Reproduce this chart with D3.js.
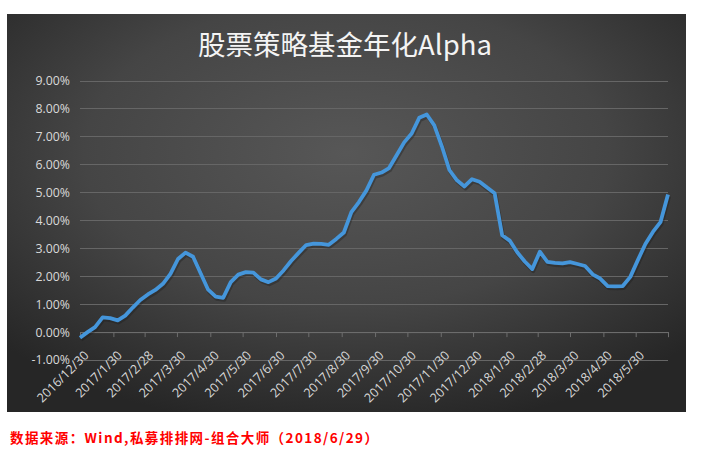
<!DOCTYPE html>
<html><head><meta charset="utf-8">
<script src="https://cdn.jsdelivr.net/npm/d3@7"></script>
<style>body{margin:0;background:#fff}svg{display:block}</style>
</head><body><svg id="c" width="707" height="455"></svg>
<script>
const title = "股票策略基金年化Alpha";
const source = "数据来源：Wind,私募排排网-组合大师（2018/6/29）";
const startDate = "2016/12/30";
// weekly annualized alpha (%), one value per Friday from 2016/12/30 to 2018/6/29
const alpha = [
  -0.20, 0.00, 0.18, 0.53, 0.50, 0.42, 0.59, 0.88, 1.15, 1.35,
   1.51, 1.73, 2.09, 2.62, 2.85, 2.70, 2.11, 1.52, 1.27, 1.23,
   1.79, 2.06, 2.15, 2.13, 1.89, 1.79, 1.92, 2.21, 2.55, 2.84,
   3.12, 3.17, 3.16, 3.13, 3.34, 3.57, 4.30, 4.66, 5.08, 5.64,
   5.72, 5.88, 6.34, 6.80, 7.12, 7.68, 7.80, 7.41, 6.66, 5.81,
   5.44, 5.22, 5.48, 5.39, 5.18, 4.98, 3.47, 3.28, 2.86, 2.53,
   2.26, 2.88, 2.52, 2.48, 2.46, 2.51, 2.44, 2.37, 2.07, 1.92,
   1.65, 1.64, 1.65, 1.98, 2.58, 3.16, 3.59, 3.94, 4.93
];
const tickLabels = ["2016/12/30","2017/1/30","2017/2/28","2017/3/30","2017/4/30","2017/5/30",
  "2017/6/30","2017/7/30","2017/8/30","2017/9/30","2017/10/30","2017/11/30","2017/12/30",
  "2018/1/30","2018/2/28","2018/3/30","2018/4/30","2018/5/30"];
const yTicks = [-1,0,1,2,3,4,5,6,7,8,9];

const parse = d3.timeParse("%Y/%m/%d");
const start = parse(startDate);
const dates = alpha.map((_, i) => d3.timeDay.offset(start, 7 * i));
const data = alpha.map((v, i) => ({date: dates[i], v}));

const svg = d3.select("#c");
const defs = svg.append("defs");
const grad = defs.append("radialGradient").attr("id", "bg")
  .attr("cx", "50%").attr("cy", "35%").attr("r", "70%");
grad.append("stop").attr("offset", "0%").attr("stop-color", "#575757");
grad.append("stop").attr("offset", "55%").attr("stop-color", "#454545");
grad.append("stop").attr("offset", "100%").attr("stop-color", "#262626");

svg.append("rect").attr("x", 7).attr("y", 14).attr("width", 679).attr("height", 398)
  .attr("fill", "url(#bg)");

const x = d3.scaleTime().domain([start, dates[dates.length - 1]]).range([80, 668]);
const y = d3.scaleLinear().domain([-1, 9]).range([360, 81]);

// gridlines
svg.append("g").selectAll("line").data(yTicks).join("line")
  .attr("x1", 80).attr("x2", 668)
  .attr("y1", d => y(d)).attr("y2", d => y(d))
  .attr("stroke", "#666").attr("stroke-width", 1).attr("shape-rendering", "crispEdges");

// y axis labels
const yAxis = svg.append("g").attr("transform", "translate(80,0)")
  .call(d3.axisLeft(y).tickValues(yTicks).tickSize(0).tickPadding(10)
    .tickFormat(d => d.toFixed(2) + "%"));
yAxis.select(".domain").remove();
yAxis.selectAll("text").attr("fill", "#d9d9d9")
  .style("font-family", "'Open Sans', sans-serif").style("font-size", "12.3px");

// x axis at 0%
const tickDates = tickLabels.map(parse).concat([dates[dates.length - 1]]);
const xAxis = svg.append("g").attr("transform", `translate(0,${y(0)})`)
  .call(d3.axisBottom(x).tickValues(tickDates).tickSize(5)
    .tickFormat((d, i) => i < tickLabels.length ? tickLabels[i] : ""));
xAxis.select(".domain").attr("stroke", "#6e6e6e");
xAxis.selectAll(".tick line").attr("stroke", "#6e6e6e");
xAxis.selectAll("text")
  .attr("fill", "#d9d9d9")
  .style("font-family", "'Open Sans', sans-serif").style("font-size", "12.6px")
  .attr("text-anchor", "end")
  .attr("y", 0).attr("dy", 0)
  .attr("transform", "translate(9,24) rotate(-45)");

// line
const line = d3.line().x(d => x(d.date)).y(d => y(d.v));
svg.append("path").datum(data)
  .attr("fill", "none").attr("stroke", "#1a1a1a").attr("stroke-opacity", 0.35)
  .attr("stroke-width", 4).attr("stroke-linejoin", "round")
  .attr("transform", "translate(1,2)").attr("d", line);
svg.append("path").datum(data)
  .attr("fill", "none").attr("stroke", "#4596db")
  .attr("stroke-width", 3.8).attr("stroke-linejoin", "round").attr("stroke-linecap", "butt")
  .attr("d", line);

// title
svg.append("text").attr("x", 345).attr("y", 55).attr("text-anchor", "middle")
  .attr("fill", "#f4f4f4")
  .style("font-family", "'Noto Sans CJK SC', sans-serif").style("font-size", "27.5px")
  .text(title);

// source note
svg.append("text").attr("x", 10).attr("y", 443)
  .attr("fill", "#ff0000").attr("textLength", 368).attr("lengthAdjust", "spacing")
  .style("font-family", "'Noto Sans CJK SC', sans-serif").style("font-size", "13.5px")
  .style("font-weight", "bold")
  .text(source);
</script></body></html>
